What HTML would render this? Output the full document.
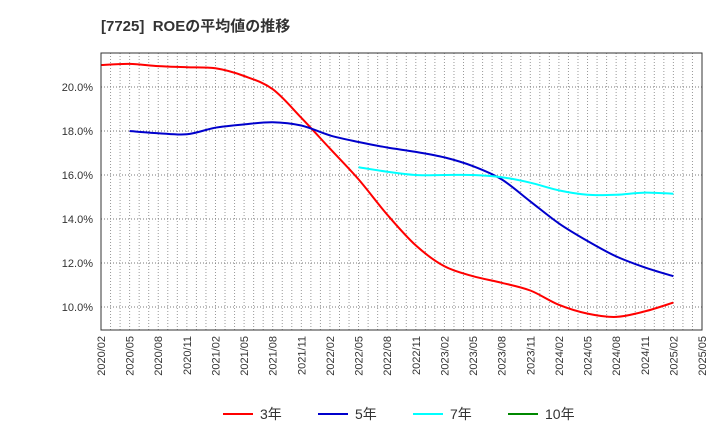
<!DOCTYPE html>
<html><head><meta charset="utf-8"><style>
body{margin:0;background:#fff;width:720px;height:440px;overflow:hidden}
svg text{font-family:"Liberation Sans","Noto Sans CJK JP",sans-serif}
</style></head><body>
<svg id="c" width="720" height="440">
<text x="101" y="31" font-size="15" font-weight="bold" fill="#333">[7725]&#160;&#160;ROEの平均値の推移</text>
<g id="grid"></g><g id="series"></g><g id="axes"></g>
<g font-size="14" fill="#333">
<line x1="223" y1="414" x2="253" y2="414" stroke="#f00" stroke-width="2"/><text x="260" y="419">3年</text>
<line x1="318" y1="414" x2="348" y2="414" stroke="#00c" stroke-width="2"/><text x="355" y="419">5年</text>
<line x1="413" y1="414" x2="443" y2="414" stroke="#0ff" stroke-width="2"/><text x="450" y="419">7年</text>
<line x1="508" y1="414" x2="538" y2="414" stroke="#080" stroke-width="2"/><text x="545" y="419">10年</text>
</g>
</svg>
<script>
const xLabels=["2020/02","2020/05","2020/08","2020/11","2021/02","2021/05","2021/08","2021/11","2022/02","2022/05","2022/08","2022/11","2023/02","2023/05","2023/08","2023/11","2024/02","2024/05","2024/08","2024/11","2025/02","2025/05"];
const yTicks=[10,12,14,16,18,20];
const s3=[21.0,21.05,20.95,20.9,20.85,20.5,19.9,18.6,17.2,15.8,14.2,12.8,11.85,11.4,11.1,10.75,10.1,9.7,9.55,9.8,10.2];
const s5=[null,18.0,17.9,17.85,18.15,18.3,18.4,18.25,17.8,17.5,17.25,17.05,16.8,16.4,15.8,14.8,13.8,13.0,12.3,11.8,11.4];
const s7=[null,null,null,null,null,null,null,null,null,16.35,16.15,16.0,16.0,16.0,15.9,15.65,15.3,15.1,15.1,15.2,15.15];
const s10=[];
const X0=101,X1=702,Y0=53,Y1=330;
const xs=i=>X0+i*(X1-X0)/(xLabels.length-1);
const ys=v=>307-(v-10)*22;
const NS="http://www.w3.org/2000/svg";
function mk(t,a,p){const e=document.createElementNS(NS,t);for(const k in a)e.setAttribute(k,a[k]);p.appendChild(e);return e;}
const grid=document.getElementById('grid'),axes=document.getElementById('axes'),ser=document.getElementById('series');
const nMonths=(xLabels.length-1)*3;
for(let m=1;m<nMonths;m++){const x=X0+m*(X1-X0)/nMonths;
const l=mk('line',{x1:x,x2:x,y1:Y0,y2:Y1,stroke:'#999','stroke-dasharray':'1,2','stroke-width':1},grid);

}
yTicks.forEach(v=>{const y=ys(v);
const l=mk('line',{x1:X0,x2:X1,y1:y,y2:y,stroke:'#777','stroke-dasharray':'1,2'},grid);


const t=mk('text',{x:X0-8,y:y+4,'text-anchor':'end','font-size':11,fill:'#333'},axes);t.textContent=v.toFixed(1)+'%';

});
const fr=mk('rect',{x:X0,y:Y0,width:X1-X0,height:Y1-Y0,fill:'none',stroke:'#333'},axes);


xLabels.forEach((s,i)=>{const x=xs(i);
const t=mk('text',{x:0,y:0,transform:`translate(${x+4},${Y1+6}) rotate(-90)`,'text-anchor':'end','font-size':11,fill:'#333'},axes);t.textContent=s;

});
function path(data,col,name){const p=[];data.forEach((v,i)=>{if(v!=null)p.push([xs(i),ys(v)]);});if(p.length<2)return;
let d=`M${p[0][0]},${p[0][1]}`;
for(let i=0;i<p.length-1;i++){const a=p[i-1]||p[i],b=p[i],c=p[i+1],e=p[i+2]||c;
d+=` C${b[0]+(c[0]-a[0])/6},${b[1]+(c[1]-a[1])/6} ${c[0]-(e[0]-b[0])/6},${c[1]-(e[1]-b[1])/6} ${c[0]},${c[1]}`;}
const el=mk('path',{d:d,fill:'none',stroke:col,'stroke-width':2},ser);

}
path(s3,'#f00','line-3y');path(s5,'#00c','line-5y');path(s7,'#0ff','line-7y');path(s10,'#080','line-10y');
</script>
</body></html>
